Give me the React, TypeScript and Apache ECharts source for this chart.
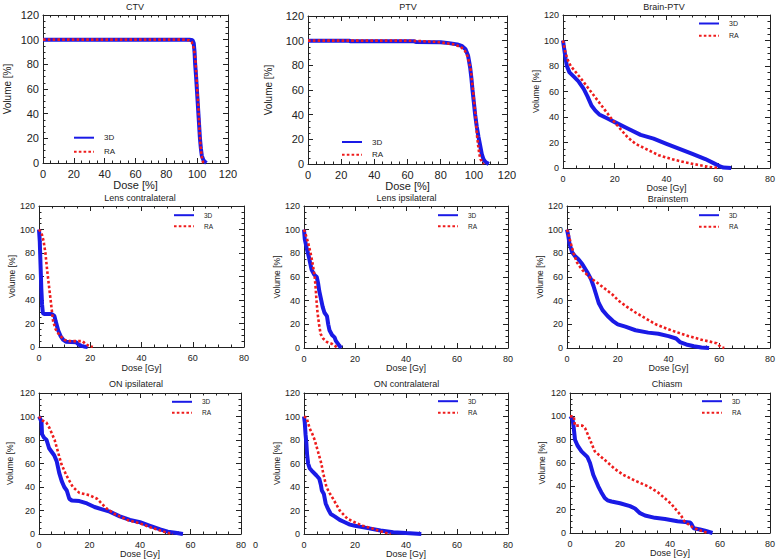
import React, { useEffect, useRef } from "react";
import * as echarts from "echarts";

// ---- Data: [dose, volume %] ----
const ctv3D = [[0,100],[95,100],[97,99.5],[97.8,97],[98.3,90],[98.7,80],[99.3,70],[99.8,60],[100.3,50],[100.8,40],[101.3,30],[101.8,20],[102.4,12],[103,6],[104,2.5],[105,1],[106,0]];
const ctvRA = [[0,100],[92,100],[95,99.5],[96.5,98],[97.8,93],[98.8,85],[99.3,75],[99.8,65],[100.3,55],[100.8,45],[101.2,35],[101.6,25],[102,17],[102.5,10],[103,5],[103.5,2],[104,0]];

const ptv3D = [[0,100],[25,100],[25.5,99.5],[64,99.5],[65,99],[80,98.8],[85,98],[90,97],[93,95.5],[95,93],[96.5,88],[97.3,82],[97.8,78],[98.5,70],[99.2,60],[100,50],[100.8,40],[101.8,30],[102.8,22],[103.8,15],[104.8,8],[105.8,4],[106.8,2],[108,0.8],[109,0]];
const ptvRA = [[0,100],[60,100],[70,99.5],[78,99],[83,98],[88,97],[92,95],[94.5,92],[96,88],[97.3,82],[98.3,75],[98.8,68],[99.5,60],[100.2,50],[101,40],[101.5,30],[102,22],[102.6,15],[103.3,8],[104,4],[105,1.5],[106,0]];

const brainPtv3D = [[0,100],[0.5,93],[1,86],[1.5,80],[2.5,75],[4,72],[6,68],[8,62],[9.5,56],[11,49],[12.5,45],[14,42],[17,39],[20,36],[25,31],[30,26],[35,23],[40,19],[45,15],[50,11],[55,7],[58,4],[61,1],[62,0.3],[65,0]];
const brainPtvRA = [[0,100],[0.5,95],[1,90],[2,84],[3,80],[5,75],[7,70],[10,62],[13,54],[16,46],[19,38],[22,31],[25,24],[28,19],[32,15],[37,10],[42,7],[47,4.5],[52,2.5],[56,1],[60,0]];

const lensC3D = [[0,100],[0.3,90],[0.6,70],[0.9,50],[1.2,36],[1.5,29],[2,28],[5,28],[6,26.5],[6.5,22],[7,18],[7.5,14],[8.5,9],[9.5,6],[10.5,4.5],[14.5,4],[15.5,2],[16.5,1],[17.5,0.5],[19,0]];
const lensCRA = [[0,100],[1,97],[1.8,90],[2.5,80],[3.2,65],[4,50],[4.8,35],[5.5,22],[6.5,15],[8,10],[10,6],[12,5],[17,5],[18,3],[19,1.5],[21,0]];

const lensI3D = [[0,100],[0.3,92],[1,85],[2,76],[3,66],[4,62],[5,60],[5.5,55],[6,48],[6.8,40],[7.3,35],[8,30],[9,27],[9.5,20],[10,15],[11,11],[12,9],[12.5,6],[13.5,3],[14.2,1],[14.6,0]];
const lensIRA = [[0,100],[0.5,97],[1.5,90],[2.6,80],[3.5,70],[4.2,60],[4.6,50],[4.9,40],[5.3,30],[5.9,20],[6.5,12],[7.5,8],[9,5],[11,3.5],[12,2],[13,0.5],[13.3,0]];

const brainstem3D = [[0,100],[0.5,95],[1,88],[2,81],[3,78],[4.5,75],[6,71],[8,64],[9.5,58],[10.5,52],[11.5,45],[12.5,38],[14,32],[16,27],[18,23],[20,20],[23,18],[27,15],[32,13],[36,12],[40,10],[43,8],[44.5,5],[47,3],[50,1.5],[53,0.5],[56,0]];
const brainstemRA = [[0,100],[0.5,97],[1.3,90],[2.6,80],[4,72],[6,66],[8.8,60],[12,55],[15,50],[18,45],[20.3,40],[23.5,35],[27,30],[31,25],[35,20],[41,15],[48,10],[53,7],[57,5],[59,4],[60,2],[61,0.5],[62,0]];

const onI3D = [[0,100],[0.5,98],[1,95],[1.2,85],[2,82],[3,80],[4,73],[5,70],[6,67],[7,62],[8,52],[9,45],[10,40],[11,37],[12,30],[13,28.5],[16,28],[19,26],[22,23],[25,21],[28,19],[32,15],[36,12],[40,10],[44,7],[48,4],[51,2],[54,1],[57,0]];
const onIRA = [[0,100],[1,97],[2.9,95],[4.2,90],[5.2,85],[6.2,80],[7.5,70],[8.8,60],[10.8,50],[13.4,40],[16,35],[20,33],[23,30],[26.6,22],[30,17],[35,12],[40,9],[45,5],[48,3],[51,1],[53,0]];

const onC3D = [[0,100],[0.3,95],[0.6,85],[0.9,78],[1.2,68],[1.6,60],[2.2,56],[3,54],[4.8,50],[6,47],[6.6,42],[7,37],[7.8,34],[8.5,26],[9.5,21],[10.5,17],[12,15],[14,12],[16,10],[18,8],[20,7],[25,5],[30,3],[35,1.5],[40,0.8],[46,0]];
const onCRA = [[0,100],[1,99],[2.2,90],[3.3,85],[4.2,80],[5.5,70],[6.8,60],[7.5,52],[8.8,40],[10,35],[11.4,30],[14,20],[17,13],[19.9,10],[23,7],[26.4,5],[29,3],[32,1],[34,0]];

const chiasm3D = [[0,100],[1,98],[1.5,90],[2,80],[3,75],[4.6,70],[7,65],[8,60],[9.3,50],[10.3,45],[11.3,40],[12.5,35],[13.9,30],[15,28],[16.6,27],[20,25.5],[24,23],[26,21],[28,17],[30,15],[34,13],[38,12],[43,10],[48,9],[48.5,8],[49.5,4],[52,3],[54,2],[57,0]];
const chiasmRA = [[0,100],[1.5,100],[2,92],[5,92],[6,90],[7,85],[8,80],[9.9,70],[12.6,65],[15.3,60],[17.9,55],[21.2,50],[25.9,45],[31.2,40],[35.1,35],[37.8,30],[40.5,25],[42.4,20],[44.4,15],[45.8,10],[47,8],[49,5],[51,3],[53,1.5],[55.5,0]];

const titles = ["CTV", "PTV", "Brain-PTV", "Lens contralateral", "Lens ipsilateral", "Brainstem", "ON ipsilateral", "ON contralateral", "Chiasm"];
const xNames = ["Dose [%]", "Dose [%]", "Dose [Gy]", "Dose [Gy]", "Dose [Gy]", "Dose [Gy]", "Dose [Gy]", "Dose [Gy]", "Dose [Gy]"];
const yName = "Volume [%]";
const xMaxes = [120, 120, 80, 80, 80, 80, 80, 80, 80];
const seriesNames = ["3D", "RA"];
const data3D = [ctv3D, ptv3D, brainPtv3D, lensC3D, lensI3D, brainstem3D, onI3D, onC3D, chiasm3D];
const dataRA = [ctvRA, ptvRA, brainPtvRA, lensCRA, lensIRA, brainstemRA, onIRA, onCRA, chiasmRA];

// ---- Layout (pixels) ----
type L = { g: number[]; big: boolean; t: number[]; yGap: number; xGap: number; lg: number[]; lgFont: number; lgStep: number };
const layout: L[] = [
  { g: [43, 15, 185, 148], big: true, t: [135, 7.3], yGap: 31, xGap: 15, lg: [73, 137.7], lgFont: 8, lgStep: 14 },
  { g: [308, 16, 199, 148], big: true, t: [408, 7.3], yGap: 35, xGap: 14.5, lg: [341, 142], lgFont: 8, lgStep: 12.7 },
  { g: [563, 15, 208, 153], big: false, t: [664, 7], yGap: 23, xGap: 14.5, lg: [698, 24], lgFont: 7, lgStep: 13.3 },
  { g: [39, 206, 205, 141], big: false, t: [140, 198.3], yGap: 22, xGap: 16, lg: [173, 215.7], lgFont: 6.5, lgStep: 12 },
  { g: [304, 206, 204, 142], big: false, t: [406.5, 198.3], yGap: 23, xGap: 15, lg: [437, 215.7], lgFont: 6.5, lgStep: 12 },
  { g: [567, 206, 203, 142], big: false, t: [668, 199], yGap: 23, xGap: 15, lg: [698, 215.7], lgFont: 6.5, lgStep: 12.6 },
  { g: [39, 393, 202, 141], big: false, t: [136, 384], yGap: 25, xGap: 14, lg: [171, 402.3], lgFont: 6.5, lgStep: 12 },
  { g: [304, 393, 204, 141], big: false, t: [406.5, 384], yGap: 23, xGap: 14.5, lg: [437, 401.7], lgFont: 6.5, lgStep: 12.6 },
  { g: [570, 393, 201, 140], big: false, t: [667, 384], yGap: 24, xGap: 15, lg: [701, 401.7], lgFont: 6.5, lgStep: 12.6 },
];

const FONT = "'Liberation Sans', Arial, Helvetica, sans-serif";
const INK = "#222222";
const BLUE = "#1a1ae6";
const RED = "#ee1c1c";

function buildOption() {
  const grid: any[] = [];
  const xAxis: any[] = [];
  const yAxis: any[] = [];
  const series: any[] = [];
  const title: any[] = [];
  const legend: any[] = [];

  const axisLine = { show: true, onZero: false, lineStyle: { color: INK, width: 1 } };
  const axisTick = { show: true, inside: true, length: 5, lineStyle: { color: INK, width: 1 } };
  const minorTick = { show: true, splitNumber: 4, length: 2.5, lineStyle: { color: INK, width: 1 } };

  layout.forEach((p, i) => {
    const [left, top, width, height] = p.g;
    const tickFs = p.big ? 11 : 9;
    const xNameFs = p.big ? 11 : 9;
    const yNameFs = p.big ? 10 : 8.5;
    grid.push({ left, top, width, height, containLabel: false, show: false });

    const xBase = {
      type: "value", gridIndex: i, min: 0, max: xMaxes[i], interval: 20,
      axisLine, axisTick, minorTick, splitLine: { show: false },
    };
    xAxis.push({
      ...xBase, position: "bottom",
      name: xNames[i], nameLocation: "middle", nameGap: p.xGap,
      nameTextStyle: { fontSize: xNameFs, color: INK, fontFamily: FONT },
      axisLabel: { show: true, fontSize: tickFs, color: INK, fontFamily: FONT, margin: p.big ? 5 : 6 },
    });
    xAxis.push({ ...xBase, position: "top", axisLabel: { show: false } });

    const yBase = {
      type: "value", gridIndex: i, min: 0, max: 120, interval: 20,
      axisLine, axisTick, minorTick, splitLine: { show: false },
    };
    yAxis.push({
      ...yBase, position: "left",
      name: yName, nameLocation: "middle", nameGap: p.yGap, nameRotate: 90,
      nameTextStyle: { fontSize: yNameFs, color: INK, fontFamily: FONT },
      axisLabel: { show: true, fontSize: tickFs, color: INK, fontFamily: FONT, margin: 4 },
    });
    yAxis.push({ ...yBase, position: "right", axisLabel: { show: false } });

    series.push({
      name: seriesNames[0], type: "line", xAxisIndex: 2 * i, yAxisIndex: 2 * i,
      data: data3D[i], symbol: "none", showSymbol: false, clip: true,
      lineStyle: { color: BLUE, width: 4, type: "solid" }, itemStyle: { color: BLUE },
    });
    series.push({
      name: seriesNames[1], type: "line", xAxisIndex: 2 * i, yAxisIndex: 2 * i,
      data: dataRA[i], symbol: "none", showSymbol: false, clip: true,
      lineStyle: { color: RED, width: 2.6, type: [2.6, 2.2], cap: "butt" }, itemStyle: { color: RED },
    });

    title.push({
      text: titles[i], left: p.t[0], top: p.t[1] - 5, textAlign: "center", padding: 0,
      textStyle: { fontSize: 9, fontWeight: "normal", color: INK, fontFamily: FONT },
    });

    const itemH = 8;
    legend.push({
      orient: "vertical", left: p.lg[0], top: p.lg[1] - itemH / 2, padding: 0,
      itemWidth: 20, itemHeight: itemH, itemGap: p.lgStep - itemH,
      selectedMode: false,
      itemStyle: { opacity: 0, borderWidth: 0 },
      data: seriesNames.map((n) => ({ name: n, itemStyle: { opacity: 0, borderWidth: 0 } })),
      textStyle: { fontSize: p.lgFont, color: INK, fontFamily: FONT, padding: [0, 0, 0, 5] },
    });
  });

  return {
    animation: false,
    backgroundColor: "#ffffff",
    grid, xAxis, yAxis, series, title, legend,
    graphic: [
      { type: "text", left: 253, top: 540, style: { text: "0", fontSize: 9, fill: INK, font: `9px ${FONT}` } },
    ],
  };
}

export default function App() {
  const ref = useRef<HTMLDivElement>(null);
  useEffect(() => {
    if (!ref.current) return;
    const chart = echarts.init(ref.current, null, { renderer: "svg" });
    chart.setOption(buildOption() as any);
    return () => chart.dispose();
  }, []);
  return (
    <div
      ref={ref}
      style={{ position: "absolute", left: 0, top: 0, width: 778, height: 560, background: "#fff" }}
    />
  );
}
